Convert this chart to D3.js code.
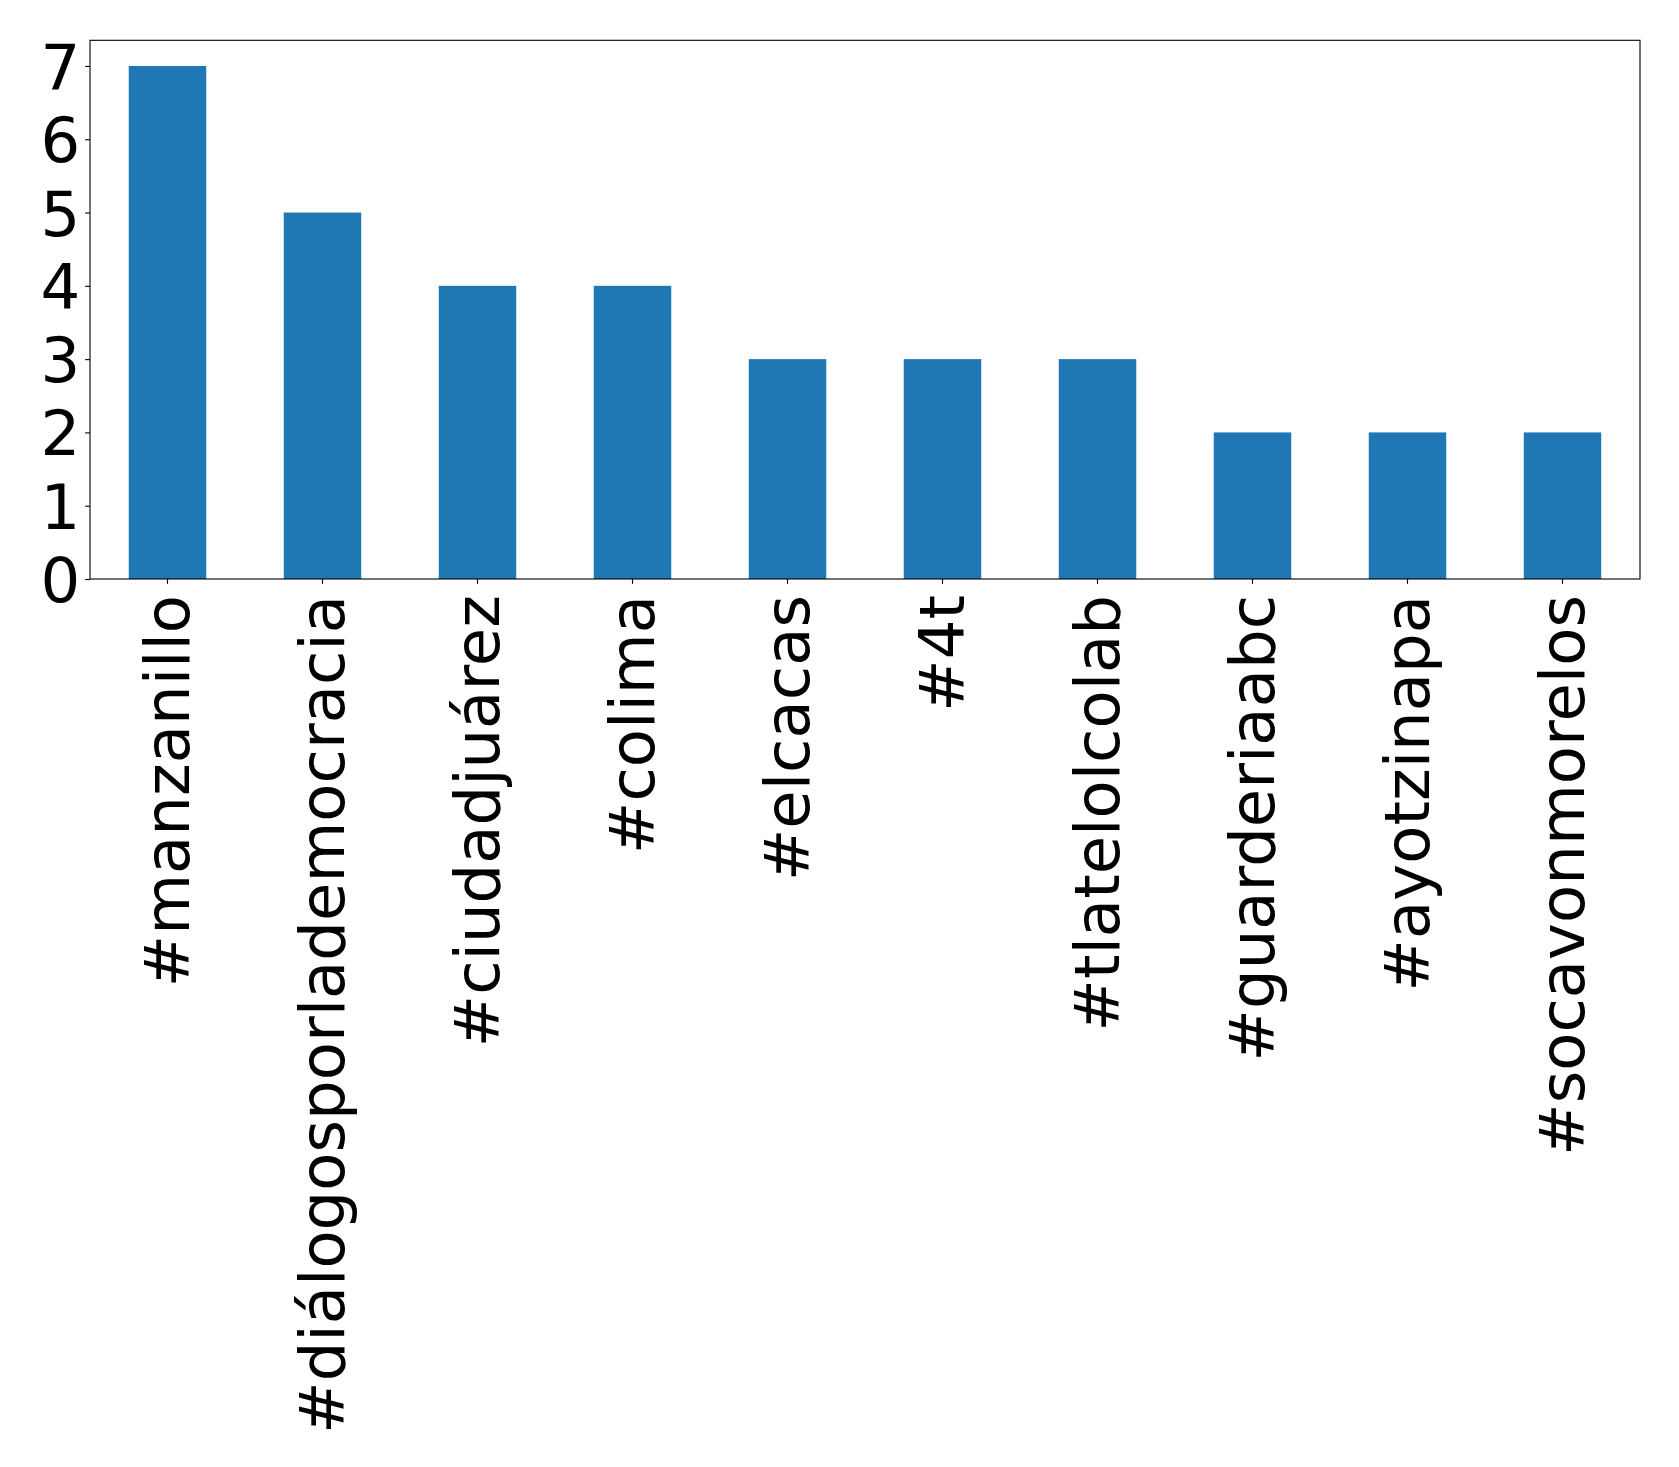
<!DOCTYPE html>
<html><head><meta charset="utf-8">
<script src="https://cdnjs.cloudflare.com/ajax/libs/d3/7.8.5/d3.min.js"></script>
<style>body{margin:0;background:#fff}svg{display:block}</style>
</head><body>
<script>
const categories = ["#manzanillo","#diálogosporlademocracia","#ciudadjuárez","#colima","#elcacas","#4t","#tlatelolcolab","#guarderiaabc","#ayotzinapa","#socavonmorelos"];
const values = [7,5,4,4,3,3,3,2,2,2];
const yTicks = [0,1,2,3,4,5,6,7];

const W = 1679, H = 1467;
const mLeft = 90, mRight = 1640, mTop = 40.3, mBottom = 579;
const fontSize = 62.5;
const svg = d3.select("body").append("svg").attr("width", W).attr("height", H)
  .style("font-family", "DejaVu Sans");

const x = d3.scaleBand().domain(categories).range([mLeft, mRight]).paddingInner(0.5).paddingOuter(0.25);
const y = d3.scaleLinear().domain([0, 7.35]).range([mBottom, mTop]);

svg.selectAll("rect.bar").data(values).enter().append("rect")
  .attr("class", "bar")
  .attr("x", (d,i) => x(categories[i]))
  .attr("width", x.bandwidth())
  .attr("y", d => y(d))
  .attr("height", d => y(0) - y(d))
  .attr("fill", "#1f77b4");

const yAxis = svg.append("g").attr("transform", `translate(${mLeft},0)`)
  .call(d3.axisLeft(y).tickValues(yTicks).tickSize(4.86).tickPadding(4.86).tickFormat(d3.format("d")));
yAxis.select(".domain").remove();
yAxis.selectAll("text").attr("font-size", fontSize).attr("font-family", "DejaVu Sans").attr("fill", "#000").attr("dy", "0.36em");
yAxis.selectAll("line").attr("stroke", "#000").attr("stroke-width", 1.1);

const xAxis = svg.append("g").attr("transform", `translate(0,${mBottom})`)
  .call(d3.axisBottom(x).tickSize(4.86).tickPadding(0));
xAxis.select(".domain").remove();
xAxis.selectAll("line").attr("stroke", "#000").attr("stroke-width", 1.1);
xAxis.selectAll("text")
  .attr("font-size", fontSize).attr("font-family", "DejaVu Sans").attr("fill", "#000")
  .attr("text-anchor", "end")
  .attr("dy", null)
  .attr("dominant-baseline", "central")
  .attr("transform", "translate(0,16) rotate(-90)")
  .attr("y", 0).attr("x", 0);

svg.append("rect").attr("x", mLeft).attr("y", mTop).attr("width", mRight-mLeft).attr("height", mBottom-mTop)
  .attr("fill", "none").attr("stroke", "#000").attr("stroke-width", 1.1);
</script>
</body></html>
